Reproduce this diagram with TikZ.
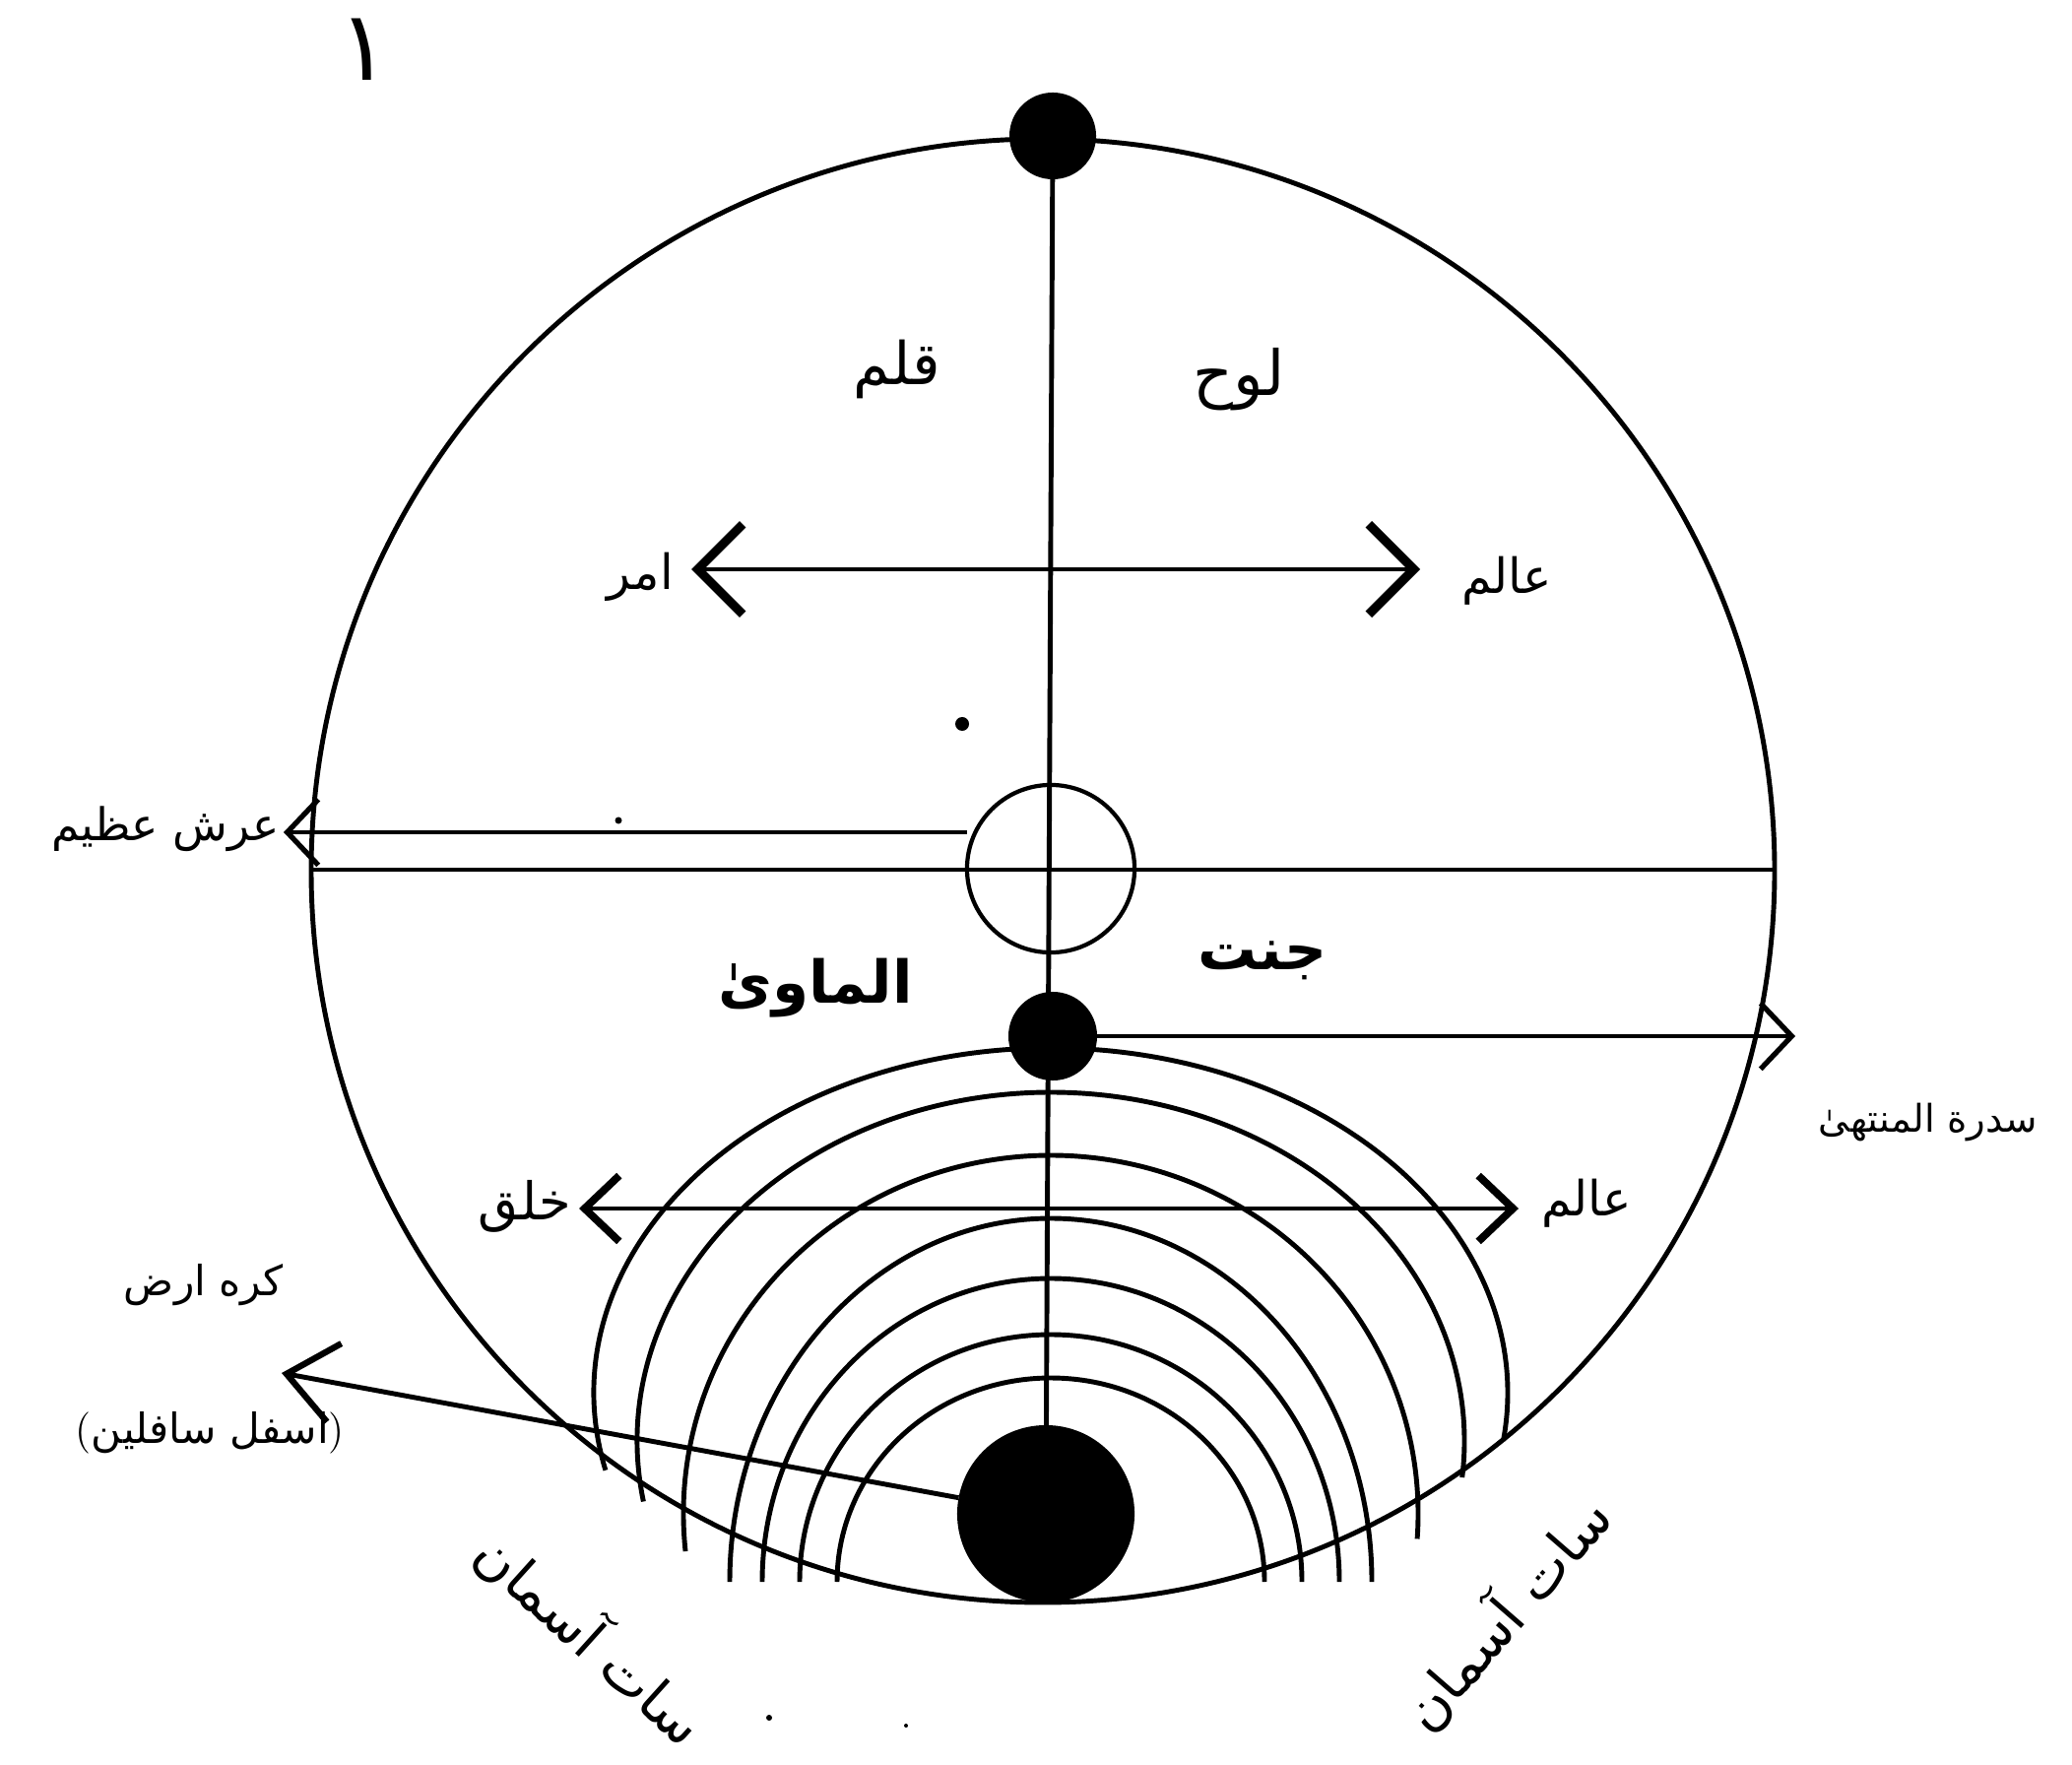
\documentclass[tikz,border=0pt]{standalone}
\usepackage{fontspec}
\usetikzlibrary{arrows.meta}
\newfontfamily\urdu[Script=Arabic]{DejaVu Sans}
\TeXXeTstate=1
\newcommand{\urd}[1]{{\urdu\beginR #1\endR}}

\begin{document}
\begin{tikzpicture}[
  x=0.01cm, y=-0.01cm, line width=1.4pt,
  every node/.style={inner sep=0pt, outer sep=0pt},
  blob/.style={circle, fill=black, minimum size=#1},
  lbl/.style={font=\fontsize{#1}{#1}\selectfont},
  lbl/.default=20,
  wide/.style={>={Straight Barb[length=13pt,width=26pt,line width=2.6pt]}},
  slim/.style={>={Straight Barb[length=10pt,width=19pt,line width=2.2pt]}},
  thin/.style={>={Straight Barb[length=9pt,width=19pt,line width=1.5pt]}},
  long/.style={>={Straight Barb[length=14pt,width=23pt,line width=1.8pt]}},
]
  \useasboundingbox (0,0) rectangle (2104,1792);

  \node[lbl=28] (num) at (370,50) {\urdu ۱};

  \draw (1059,884) circle[radius=743];
  \node[blob=0.88cm] (tdot) at (1069,138) {};
  \node[blob=0.9cm] (mdot) at (1069,1052) {};
  \node[blob=1.8cm] (bdot) at (1062,1537) {};
  \node[draw, circle, minimum size=1.7cm, line width=1.2pt] (hub) at (1067,882) {};
  \node[blob=0.14cm] (speck) at (977,735) {};
  \node[blob=0.07cm] (speckA) at (628,833) {};
  \node[blob=0.06cm] (speckB) at (781,1744) {};
  \node[blob=0.04cm] (speckC) at (920,1752) {};

  \foreach \a/\b/\c/\s/\e in {464/350/1414/167/368, 420/354/1463/170/366,
      373/364/1537/174/364, 326/369/1606/180/360, 293/308/1606/180/360,
      255/251/1606/180/360, 217/207/1606/180/360}
    \draw (1067,\c) ++({\a*cos(\s)},{\b*sin(\s)})
      arc[start angle=\s, end angle=\e, x radius=\a, y radius=\b];

  \draw (tdot.center) -- (bdot.center);

  \coordinate (rimL) at (318,883);
  \coordinate (rimR) at (1800,883);
  \draw (rimL) -- (rimR);
  \coordinate (arshTip) at (288,845);
  \draw[thin, ->] (hub.west |- arshTip) -- (arshTip);

  \coordinate (amrTip) at (702,578);
  \coordinate (alamTip) at (1442,578);
  \draw[wide, <->] (amrTip) -- (alamTip);

  \coordinate (khalqTip) at (588,1227);
  \coordinate (alam2Tip) at (1542,1227);
  \draw[slim, <->] (khalqTip) -- (alam2Tip);

  \coordinate (sidraTip) at (1823,1052);
  \draw[thin, ->] (mdot) -- (sidraTip);

  \coordinate (arzTip) at (286,1394);
  \draw[long, ->] (bdot) -- (arzTip);

  \node[lbl=17] (qalam) at (911,375) {\urd{قلم}};
  \node[lbl=18] (lawh) at (1258,385) {\urd{لوح}};
  \node[lbl=14, anchor=east] (amr) at (684,586) {\urd{امر}};
  \node[lbl=14, anchor=west] (alam) at (1484,590) {\urd{عالم}};
  \node[lbl=13, anchor=east] (arsh) at (284,842) {\urd{عرش عظیم}};
  \node[lbl=17] (jannat) at (1282,975) {\bfseries\urd{جنت}};
  \node[lbl=17] (mawa) at (828,1003) {\bfseries\urd{الماویٰ}};
  \node[lbl=11] (sidra) at (1958,1140) {\urd{سدرة المنتهیٰ}};
  \node[lbl=15, anchor=east] (khalq) at (580,1225) {\urd{خلق}};
  \node[lbl=14, anchor=west] (alam2) at (1565,1222) {\urd{عالم}};
  \node[lbl=12, anchor=east] (arz) at (288,1305) {\urd{کره ارض}};
  \node[lbl=12, anchor=east] (asfal) at (350,1455) {(\urd{اسفل سافلین})};
  \node[lbl=16, rotate=-42] (heavL) at (600,1663) {\urd{سات آسمان}};
  \node[lbl=16, rotate=49] (heavR) at (1529,1638) {\urd{سات آسمان}};
\end{tikzpicture}
\end{document}
